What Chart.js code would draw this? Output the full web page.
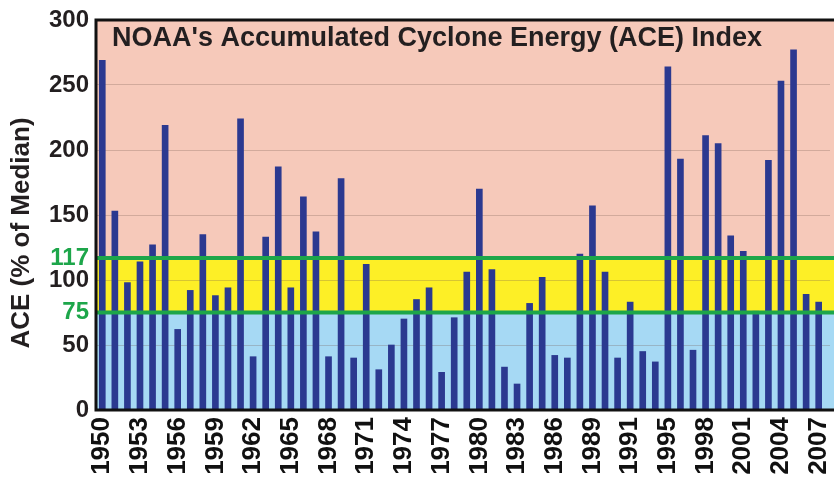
<!DOCTYPE html>
<html>
<head>
<meta charset="utf-8">
<script src="https://cdn.jsdelivr.net/npm/chart.js@4/dist/chart.umd.min.js"></script>
<style>
  html, body { margin: 0; padding: 0; background: #ffffff; }
  #wrap { width: 834px; height: 484px; }
</style>
</head>
<body>
<div id="wrap"><canvas id="c" width="834" height="484"></canvas></div>
<script>
// ---- Data ----
const years = [1950,1951,1952,1953,1954,1955,1956,1957,1958,1959,
               1960,1961,1962,1963,1964,1965,1966,1967,1968,1969,
               1970,1971,1972,1973,1974,1975,1976,1977,1978,1979,
               1980,1981,1982,1983,1984,1985,1986,1987,1988,1989,
               1990,1991,1992,1993,1994,1995,1996,1997,1998,1999,
               2000,2001,2002,2003,2004,2005,2006,2007];
const aceValues = [269,153,98,114,127,219,62,92,135,88,
                   94,224,41,133,187,94,164,137,41,178,
                   40,112,31,50,70,85,94,29,71,106,
                   170,108,33,20,82,102,42,40,120,157,
                   106,40,83,45,37,264,193,46,211,205,
                   134,122,76,192,253,277,89,83];
const xTickPositions = [1950,1953,1956,1959,1962,1965,1968,1971,1974,1977,
                        1980,1983,1986,1989,1992,1995,1998,2001,2004,2007];
const xTickLabels = ['1950','1953','1956','1959','1962','1965','1968','1971','1974','1977',
                     '1980','1983','1986','1989','1991','1995','1998','2001','2004','2007'];
const yTicks = [0,50,75,100,117,150,200,250,300];
const thresholds = [75,117];
const bands = [[0,75],[75,117],[117,300]];
const titleText = "NOAA's Accumulated Cyclone Energy (ACE) Index";
const yTitle = 'ACE (% of Median)';

// ---- Styles ----
const FONT = '"Liberation Sans", Arial, Helvetica, sans-serif';
const bandColors = ['#a6d9f4', '#fdef26', '#f6c9ba'];
const GREEN = '#1da64a';
const BAR = '#2b3990';

const bgPlugin = {
  id: 'bands',
  beforeDraw(chart) {
    const {ctx, chartArea: a, scales: {y}} = chart;
    ctx.save();
    bands.forEach((b, i) => {
      const top = y.getPixelForValue(b[1]);
      const bot = y.getPixelForValue(b[0]);
      ctx.fillStyle = bandColors[i];
      ctx.fillRect(a.left, top, chart.width - a.left, bot - top);
    });
    ctx.restore();
  }
};

const overPlugin = {
  id: 'over',
  afterDatasetsDraw(chart) {
    const {ctx, chartArea: a, scales: {y}} = chart;
    ctx.save();
    // green threshold lines
    ctx.strokeStyle = GREEN;
    ctx.lineWidth = 4;
    thresholds.forEach(t => {
      const py = y.getPixelForValue(t);
      ctx.beginPath();
      ctx.moveTo(a.left, py);
      ctx.lineTo(chart.width, py);
      ctx.stroke();
    });
    // frame (top, left, bottom)
    ctx.strokeStyle = '#111111';
    ctx.lineWidth = 3;
    ctx.beginPath();
    ctx.moveTo(chart.width, a.top);
    ctx.lineTo(a.left, a.top);
    ctx.lineTo(a.left, a.bottom);
    ctx.lineTo(chart.width, a.bottom);
    ctx.stroke();
    // title inside plot
    ctx.fillStyle = '#231f20';
    ctx.font = 'bold 27px ' + FONT;
    ctx.textBaseline = 'middle';
    ctx.textAlign = 'left';
    ctx.fillText(titleText, a.left + 16, a.top + 19);
    // y axis title
    ctx.translate(22, 233);
    ctx.rotate(-Math.PI / 2);
    ctx.font = 'bold 26px ' + FONT;
    ctx.textAlign = 'center';
    ctx.fillText(yTitle, 0, 0);
    ctx.restore();
  }
};

new Chart(document.getElementById('c'), {
  type: 'bar',
  data: {
    datasets: [{
      data: years.map((yr, i) => ({x: yr, y: aceValues[i]})),
      backgroundColor: BAR,
      borderWidth: 0,
      barThickness: 6
    }]
  },
  options: {
    responsive: false,
    animation: false,
    layout: { padding: { top: 20, right: 4, left: 0, bottom: 0 } },
    plugins: { legend: { display: false }, tooltip: { enabled: false } },
    scales: {
      x: {
        type: 'linear',
        min: 1949.5,
        max: 2007.9,
        offset: false,
        afterBuildTicks: s => { s.ticks = xTickPositions.map(v => ({value: v})); },
        afterFit: s => { s.height = 74; s.paddingLeft = 0; s.paddingRight = 0; },
        grid: { display: false, drawTicks: false },
        border: { display: false },
        ticks: {
          autoSkip: false,
          maxRotation: 90,
          minRotation: 90,
          padding: 7,
          color: '#111111',
          font: { family: FONT, size: 26, weight: 'bold' },
          callback: (v, i) => xTickLabels[i]
        }
      },
      y: {
        min: 0,
        max: 300,
        afterBuildTicks: s => { s.ticks = yTicks.map(v => ({value: v})); },
        afterFit: s => { s.width = 96; s.paddingTop = 0; s.paddingBottom = 0; },
        border: { display: false },
        grid: {
          drawTicks: false,
          lineWidth: 1,
          color: c => {
            const v = c.tick && c.tick.value;
            if (v === 0 || v === 300 || thresholds.includes(v)) return 'rgba(0,0,0,0)';
            return 'rgba(120,90,80,0.28)';
          }
        },
        ticks: {
          padding: 7,
          color: c => thresholds.includes(c.tick.value) ? GREEN : '#231f20',
          font: { family: FONT, size: 24, weight: 'bold' },
          callback: v => String(v)
        },
        title: { display: false }
      }
    }
  },
  plugins: [bgPlugin, overPlugin]
});
</script>
</body>
</html>
